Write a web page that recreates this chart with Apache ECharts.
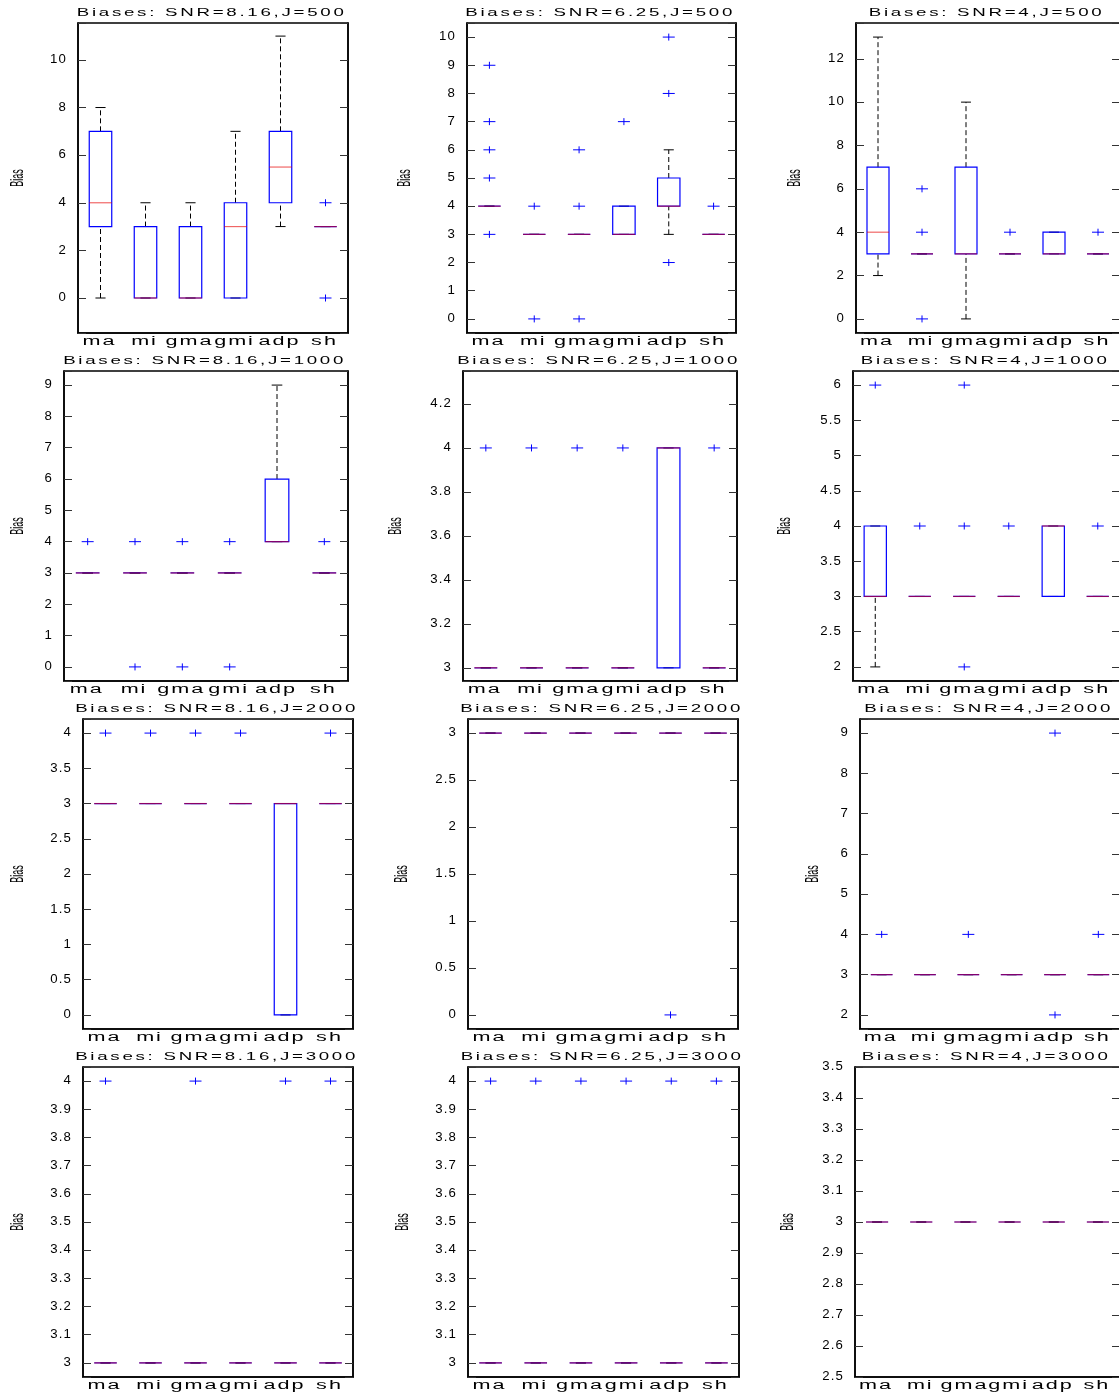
<!DOCTYPE html>
<html>
<head>
<meta charset="utf-8">
<script src="https://cdn.jsdelivr.net/npm/echarts@6/dist/echarts.min.js"></script>
<style>
html,body{margin:0;padding:0;background:#fff;overflow:hidden}
#chart{width:1119px;height:1393px}
</style>
</head>
<body>
<div id="chart"></div>
<script>
// ---------------- data ----------------
const methods = ['ma', 'mi', 'gma', 'gmi', 'adp', 'sh'];

const panelTitles = [
  'Biases: SNR=8.16,J=500', 'Biases: SNR=6.25,J=500', 'Biases: SNR=4,J=500',
  'Biases: SNR=8.16,J=1000', 'Biases: SNR=6.25,J=1000', 'Biases: SNR=4,J=1000',
  'Biases: SNR=8.16,J=2000', 'Biases: SNR=6.25,J=2000', 'Biases: SNR=4,J=2000',
  'Biases: SNR=8.16,J=3000', 'Biases: SNR=6.25,J=3000', 'Biases: SNR=4,J=3000'
];

// box stats per method: [lower whisker, q1, median, q3, upper whisker]
const box_816_500  = [[0,3,4,7,8],[0,0,0,3,4],[0,0,0,3,4],[0,0,3,4,7],[3,4,5.5,7,11],[3,3,3,3,3]];
const box_625_500  = [[4,4,4,4,4],[3,3,3,3,3],[3,3,3,3,3],[3,3,3,4,4],[3,4,4,5,6],[3,3,3,3,3]];
const box_4_500    = [[2,3,4,7,13],[3,3,3,3,3],[0,3,3,7,10],[3,3,3,3,3],[3,3,3,4,4],[3,3,3,3,3]];
const box_816_1000 = [[3,3,3,3,3],[3,3,3,3,3],[3,3,3,3,3],[3,3,3,3,3],[4,4,4,6,9],[3,3,3,3,3]];
const box_625_1000 = [[3,3,3,3,3],[3,3,3,3,3],[3,3,3,3,3],[3,3,3,3,3],[3,3,4,4,4],[3,3,3,3,3]];
const box_4_1000   = [[2,3,3,4,4],[3,3,3,3,3],[3,3,3,3,3],[3,3,3,3,3],[3,3,4,4,4],[3,3,3,3,3]];
const box_816_2000 = [[3,3,3,3,3],[3,3,3,3,3],[3,3,3,3,3],[3,3,3,3,3],[0,0,3,3,3],[3,3,3,3,3]];
const box_625_2000 = [[3,3,3,3,3],[3,3,3,3,3],[3,3,3,3,3],[3,3,3,3,3],[3,3,3,3,3],[3,3,3,3,3]];
const box_4_2000   = [[3,3,3,3,3],[3,3,3,3,3],[3,3,3,3,3],[3,3,3,3,3],[3,3,3,3,3],[3,3,3,3,3]];
const box_816_3000 = [[3,3,3,3,3],[3,3,3,3,3],[3,3,3,3,3],[3,3,3,3,3],[3,3,3,3,3],[3,3,3,3,3]];
const box_625_3000 = [[3,3,3,3,3],[3,3,3,3,3],[3,3,3,3,3],[3,3,3,3,3],[3,3,3,3,3],[3,3,3,3,3]];
const box_4_3000   = [[3,3,3,3,3],[3,3,3,3,3],[3,3,3,3,3],[3,3,3,3,3],[3,3,3,3,3],[3,3,3,3,3]];

// outliers per method
const out_816_500  = [[],[],[],[],[],[4,0]];
const out_625_500  = [[9,7,6,5,3],[4,0],[6,4,0],[7],[10,8,2],[4]];
const out_4_500    = [[],[6,4,0],[],[4],[],[4]];
const out_816_1000 = [[4],[4,0],[4,0],[4,0],[],[4]];
const out_625_1000 = [[4],[4],[4],[4],[],[4]];
const out_4_1000   = [[6],[4],[6,4,2],[4],[],[4]];
const out_816_2000 = [[4],[4],[4],[4],[],[4]];
const out_625_2000 = [[],[],[],[],[0],[]];
const out_4_2000   = [[4],[],[4],[],[9,2],[4]];
const out_816_3000 = [[4],[],[4],[],[4],[4]];
const out_625_3000 = [[4],[4],[4],[4],[4],[4]];
const out_4_3000   = [[],[],[],[],[],[]];

// y axis ranges and tick steps
const yLo   = [-1.47, -0.5, -0.65, -0.45, 2.94, 1.8, -0.2, -0.15, 1.65, 2.95, 2.95, 2.5];
const yHi   = [11.55, 10.5, 13.65, 9.45, 4.35, 6.2, 4.2, 3.15, 9.35, 4.05, 4.05, 3.5];
const yStep = [2, 1, 2, 1, 0.2, 0.5, 0.5, 0.5, 1, 0.1, 0.1, 0.1];

const boxes = [box_816_500, box_625_500, box_4_500, box_816_1000, box_625_1000, box_4_1000,
               box_816_2000, box_625_2000, box_4_2000, box_816_3000, box_625_3000, box_4_3000];
const outliers = [out_816_500, out_625_500, out_4_500, out_816_1000, out_625_1000, out_4_1000,
                  out_816_2000, out_625_2000, out_4_2000, out_816_3000, out_625_3000, out_4_3000];

// ---------------- layout (pixels) ----------------
// [left, top, right, bottom] of each plot frame
const frames = [
  [78, 23, 348, 333], [467, 23, 736, 333], [856, 23, 1120, 333],
  [64, 371, 348, 681], [463, 371, 737, 681], [853, 371, 1120, 681],
  [83, 719, 353, 1029], [468, 719, 738, 1029], [860, 719, 1120, 1029],
  [83, 1067, 353, 1377], [468, 1067, 739, 1377], [855, 1067, 1120, 1377]
];
const nameCenterX = [20, 407, 797, 20, 398, 787, 20, 404, 815, 20, 405, 790];
const titleCenterY = [13, 361, 709, 1057];

// ---------------- text rendering: wide glyphs like the reference ----------------
(function () {
  const P = CanvasRenderingContext2D.prototype;
  const origFill = P.fillText;
  function cfg(font) {
    if (!font) return null;
    if (font.indexOf('Helvetica') >= 0) return { sx: 1.7, ls: 1.6 };
    if (font.indexOf('Arial') >= 0) return { sx: 1.8, ls: 1.1 };
    if (/\b18px/.test(font)) return { sx: 0.5, ls: 0 };
    if (font.indexOf('Liberation Sans') >= 0) return { sx: 1.1, ls: 1 };
    return null;
  }
  P.fillText = function (t, x, y) {
    const c = cfg(this.font);
    if (!c) return origFill.apply(this, arguments);
    const a = this.textAlign;
    let dx = 0;
    if (a === 'center') dx = -c.ls * c.sx / 2;
    else if (a === 'right' || a === 'end') dx = -c.ls * c.sx;
    this.save();
    this.translate(x + dx, y);
    this.scale(c.sx, 1);
    if ('letterSpacing' in this) this.letterSpacing = c.ls + 'px';
    origFill.call(this, t, 0, 0);
    this.restore();
  };
})();

// ---------------- rendering helpers ----------------
function renderBox(params, api) {
  const i = api.value(0);
  const lo = api.value(1), q1 = api.value(2), md = api.value(3), q3 = api.value(4), hi = api.value(5);
  const band = api.size([1, 0])[0];
  const bw = band * 0.5, cw = bw * 0.45;
  const cx = api.coord([i, md])[0];
  const y = v => api.coord([i, v])[1];
  const kids = [];
  const dash = { stroke: '#000', lineWidth: 1, lineDash: [5, 3] };
  if (hi > q3) kids.push({ type: 'line', shape: { x1: cx, y1: y(q3), x2: cx, y2: y(hi) }, style: dash });
  if (lo < q1) kids.push({ type: 'line', shape: { x1: cx, y1: y(lo), x2: cx, y2: y(q1) }, style: dash });
  [lo, hi].forEach(v => kids.push({
    type: 'line', shape: { x1: cx - cw / 2, y1: y(v), x2: cx + cw / 2, y2: y(v) },
    style: { stroke: '#000', lineWidth: 1 }
  }));
  kids.push({
    type: 'polygon',
    shape: { points: [[cx - bw / 2, y(q1)], [cx + bw / 2, y(q1)], [cx + bw / 2, y(q3)], [cx - bw / 2, y(q3)]] },
    style: { fill: 'none', stroke: '#0000ff', lineWidth: 1.2 }
  });
  kids.push({
    type: 'line', shape: { x1: cx - bw / 2, y1: y(md), x2: cx + bw / 2, y2: y(md) },
    style: { stroke: 'rgba(230,0,0,0.6)', lineWidth: 1.2 }
  });
  return { type: 'group', children: kids };
}

function renderPlus(params, api) {
  const p = api.coord([api.value(0), api.value(1)]);
  return {
    type: 'group', children: [
      { type: 'line', shape: { x1: p[0] - 6, y1: p[1], x2: p[0] + 6, y2: p[1] }, style: { stroke: '#0000ff', lineWidth: 1 } },
      { type: 'line', shape: { x1: p[0], y1: p[1] - 3.5, x2: p[0], y2: p[1] + 3.5 }, style: { stroke: '#0000ff', lineWidth: 1 } }
    ]
  };
}

function isMultiple(v, step) {
  const r = v / step;
  return Math.abs(r - Math.round(r)) < 1e-6;
}

// ---------------- option ----------------
const grid = [], xAxis = [], yAxis = [], series = [], title = [];

for (let k = 0; k < 12; k++) {
  const [l, t, r, b] = frames[k];
  grid.push({
    left: l, top: t, width: r - l, height: b - t,
    show: true, borderColor: '#000', borderWidth: 1.5, backgroundColor: 'transparent',
    containLabel: false, outerBoundsMode: 'none'
  });
  title.push({
    text: panelTitles[k],
    left: (l + r) / 2, top: titleCenterY[Math.floor(k / 3)] - 6, textAlign: 'center', padding: 0,
    textStyle: { fontSize: 11, fontWeight: 'normal', color: '#000', fontFamily: "Helvetica, 'Liberation Sans'" }
  });
  xAxis.push({
    gridIndex: k, type: 'category', data: methods, boundaryGap: true,
    axisLine: { show: true, onZero: false, lineStyle: { color: '#000', width: 1.5 } },
    axisTick: { show: false },
    splitLine: { show: false },
    axisLabel: { interval: 0, color: '#000', fontSize: 12, fontFamily: "Arial, 'Liberation Sans'", margin: 3 }
  });
  const step = yStep[k];
  const common = {
    gridIndex: k, type: 'value', min: yLo[k], max: yHi[k],
    minInterval: step, maxInterval: step,
    splitNumber: Math.round((yHi[k] - yLo[k]) / step),
    splitLine: { show: false },
    axisLine: { show: true, onZero: false, lineStyle: { color: '#000', width: 1.5 } },
    axisTick: { show: true, inside: true, length: 8, lineStyle: { color: '#333', width: 1 } }
  };
  yAxis.push(Object.assign({}, common, {
    position: 'left',
    axisLabel: {
      show: true, color: '#000', fontSize: 12, fontFamily: "'Liberation Sans'", margin: 10,
      showMinLabel: true, showMaxLabel: true,
      formatter: v => isMultiple(v, step) ? String(Number(v.toFixed(6))) : ''
    },
    name: 'Bias', nameLocation: 'middle', nameRotate: 90,
    nameGap: (l - nameCenterX[k]) - 7,
    nameTextStyle: { fontSize: 18, color: '#000', fontFamily: "'Liberation Sans'" }
  }));
  yAxis.push(Object.assign({}, common, {
    position: 'right',
    axisLabel: { show: false }
  }));

  series.push({
    type: 'custom', xAxisIndex: k, yAxisIndex: 2 * k,
    renderItem: renderBox, silent: true, clip: false,
    encode: { x: 0, y: [1, 2, 3, 4, 5] },
    data: boxes[k].map((s, i) => [i].concat(s))
  });
  const pts = [];
  outliers[k].forEach((vals, i) => vals.forEach(v => pts.push([i, v])));
  series.push({
    type: 'custom', xAxisIndex: k, yAxisIndex: 2 * k,
    renderItem: renderPlus, silent: true, clip: false,
    encode: { x: 0, y: 1 },
    data: pts
  });
}

const chart = echarts.init(document.getElementById('chart'), null, { renderer: 'canvas' });
chart.setOption({
  backgroundColor: '#fff',
  animation: false,
  title, grid, xAxis, yAxis, series
});
</script>
</body>
</html>
